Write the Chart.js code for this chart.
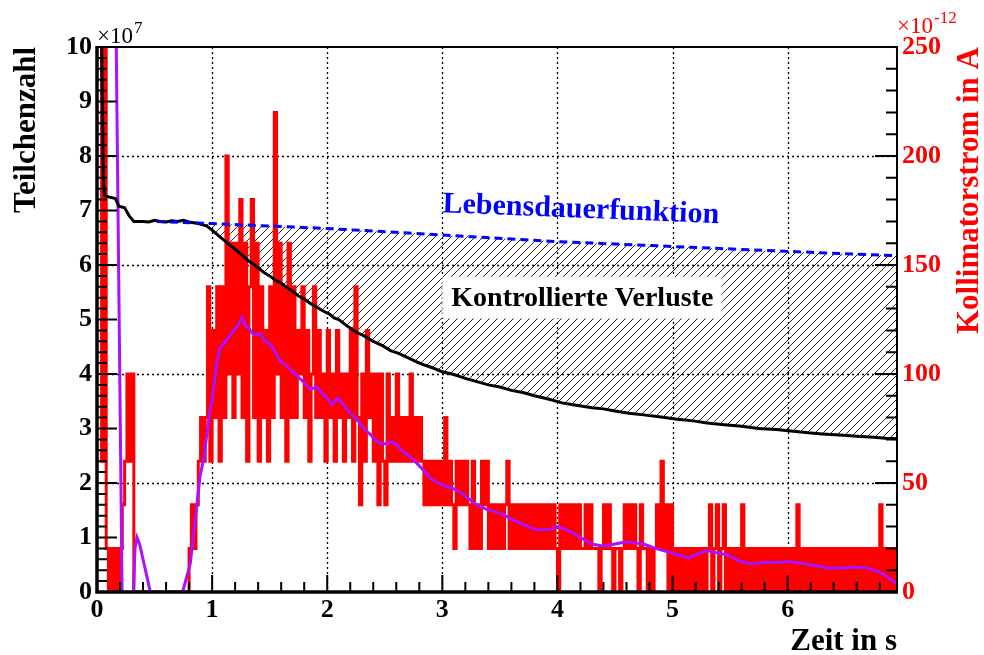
<!DOCTYPE html>
<html>
<head>
<meta charset="utf-8">
<title>Teilchenzahl und Kollimatorstrom</title>
<script src="https://cdn.jsdelivr.net/npm/chart.js@4.4.1/dist/chart.umd.min.js"></script>
<style>
  html, body { margin: 0; padding: 0; background: #fff; }
  #wrap { position: relative; width: 984px; height: 655px; }
</style>
</head>
<body>
<div id="wrap"><canvas id="chart"></canvas></div>
<script>
// Kollimatorstrom in 1e-12 A, one sample every 20 ms starting at t = 0
const stromStep = 0.02;
const stromWerte = [
  300,300,60,300,20,0,20,0,20,0,
  20,40,60,100,60,100,0,0,0,0,
  0,0,0,0,0,0,0,0,0,0,
  0,0,0,0,0,0,0,0,0,0,
  20,40,20,40,60,80,60,80,140,60,
  120,80,140,60,140,80,200,100,160,80,
  160,100,180,80,160,60,140,180,80,160,
  60,140,80,120,60,140,80,220,100,160,
  80,140,60,160,80,140,80,120,100,140,
  80,120,60,100,140,80,120,80,100,60,
  120,80,100,60,120,80,100,60,100,80,
  120,60,140,80,40,100,60,120,80,100,
  60,100,40,100,60,40,100,60,80,60,
  100,60,80,60,80,60,100,60,80,60,
  80,60,40,60,40,60,40,60,40,60,
  40,80,40,60,40,20,60,40,60,40,
  60,40,20,60,20,40,20,60,40,60,
  20,40,20,40,20,40,20,40,60,20,
  40,20,40,20,40,20,40,20,40,20,
  40,20,40,20,40,20,40,20,40,20,
  0,40,20,40,20,40,20,40,20,40,
  20,20,40,20,40,20,20,20,0,20,
  40,20,40,20,0,20,20,0,20,40,
  20,40,20,40,20,0,40,20,20,0,
  20,0,20,40,20,60,20,40,0,40,
  0,20,0,20,0,20,0,20,0,20,
  0,20,0,20,0,20,40,0,20,40,
  0,20,40,0,20,0,20,0,20,0,
  40,0,20,0,20,0,20,0,20,0,
  20,0,20,0,20,0,20,0,20,0,
  20,0,20,0,40,0,20,0,20,0,
  20,0,20,0,20,0,20,0,20,0,
  20,0,20,0,20,0,20,0,20,0,
  20,0,20,0,20,0,20,0,20,0,
  40,0,20,0,20,0,20,0
];

// geglaetteter Kollimatorstrom (1e-12 A), null = ausserhalb des Bereichs
const glattZeit = [0.165,0.218,0.26,0.317,0.33,0.347,0.37,0.40,0.43,0.463,0.60,0.744,
  0.81,0.84,0.895,0.93,0.98,1.0,1.04,1.07,1.12,1.16,1.22,1.26,1.29,1.32,1.36,1.42,1.46,
  1.5,1.55,1.59,1.64,1.68,1.74,1.8,1.85,1.91,1.96,2.0,2.04,2.09,2.14,2.2,2.26,2.32,2.38,
  2.43,2.47,2.52,2.56,2.61,2.67,2.72,2.78,2.85,2.9,2.96,3.03,3.09,3.15,3.2,3.25,3.3,3.38,
  3.45,3.53,3.62,3.7,3.76,3.83,3.9,3.95,4.0,4.06,4.12,4.2,4.3,4.4,4.5,4.6,4.68,4.75,4.85,
  4.95,5.05,5.14,5.22,5.3,5.38,5.48,5.59,5.68,5.8,5.91,6.0,6.08,6.2,6.34,6.45,6.58,6.69,
  6.78,6.84,6.9,6.94];
const glattWerte = [262,0,null,0,20,25,22,15,8,0,null,0,
  13,27,53,62,83,88,105,112,115,118,122,126,122,121,118,118.5,115,
  114,110,106,104,102,99,96,93,94,91,89,86,89,86,82,79,75,72,
  69,68,68,69,67,64,62,59,55,52,50,48.5,47.5,46,44,42,40,38,
  37,35.5,33,31,29.5,28.5,28.5,29,30,29,27.5,25,22,21,22,23,22.5,22,20,
  18.5,17,15.5,17.5,19,18,17,14,13,13.5,13.5,14,13.5,12.5,11,11,11.5,11,
  9.5,8,5.5,4];

// Teilchenzahl in 1e7
const teilchenZeit = [0,0.04,0.055,0.065,0.1,0.16,0.19,0.24,0.28,0.32,0.4,0.45,0.5,0.55,0.6,
  0.65,0.7,0.75,0.8,0.88,0.95,1.0,1.05,1.1,1.15,1.2,1.26,1.32,1.36,1.4,1.45,1.5,1.55,1.6,1.65,
  1.7,1.75,1.8,1.85,1.9,1.96,2.02,2.06,2.1,2.18,2.25,2.32,2.4,2.48,2.55,2.62,2.7,2.78,2.85,
  2.92,3.0,3.1,3.2,3.3,3.4,3.5,3.6,3.7,3.8,3.92,4.04,4.15,4.3,4.4,4.5,4.62,4.75,4.9,5.04,
  5.18,5.3,5.45,5.6,5.75,5.9,6.05,6.18,6.3,6.45,6.6,6.75,6.85,6.95];
const teilchenZahl = [10.6,10.1,7.6,7.28,7.25,7.22,7.08,7.05,6.9,6.8,6.8,6.79,6.82,6.8,6.79,
  6.81,6.8,6.82,6.79,6.76,6.72,6.64,6.55,6.46,6.37,6.29,6.18,6.07,6.02,5.95,5.86,5.8,5.72,5.67,5.58,
  5.52,5.43,5.38,5.3,5.24,5.16,5.1,5.03,5.0,4.87,4.77,4.7,4.6,4.52,4.43,4.38,4.3,4.22,4.16,
  4.11,4.04,3.99,3.92,3.86,3.8,3.76,3.7,3.66,3.6,3.54,3.47,3.43,3.38,3.36,3.32,3.28,3.25,3.21,3.17,
  3.14,3.1,3.07,3.04,3.0,2.98,2.95,2.92,2.9,2.88,2.86,2.84,2.82,2.81];

// Lebensdauerfunktion in 1e7
const lebensZeit = [0.52,1.0,2.0,3.0,4.0,5.0,6.0,6.95];
const lebensZahl = [6.80,6.76,6.67,6.55,6.43,6.34,6.25,6.17];

const xTicks = [0,1,2,3,4,5,6];
const yLinksTicks = [0,1,2,3,4,5,6,7,8,9,10];
const yRechtsTicks = [0,50,100,150,200,250];

const serif = "'Liberation Serif', 'Times New Roman', serif";
const canvas = document.getElementById('chart');

function schraffur() {
  const c = document.createElement('canvas');
  c.width = 8; c.height = 8;
  const g = c.getContext('2d');
  g.strokeStyle = '#111';
  g.lineWidth = 0.9;
  g.beginPath();
  g.moveTo(-1, 9); g.lineTo(9, -1);
  g.moveTo(-1, 1); g.lineTo(1, -1);
  g.moveTo(7, 9); g.lineTo(9, 7);
  g.stroke();
  return canvas.getContext('2d').createPattern(c, 'repeat');
}

const strom = stromWerte.map((v, i) => ({ x: +(i * stromStep).toFixed(2), y: v }));
const glatt = glattZeit.map((t, i) => ({ x: t, y: glattWerte[i] }));
const teilchen = teilchenZeit.map((t, i) => ({ x: t, y: teilchenZahl[i] }));
const lebens = lebensZeit.map((t, i) => ({ x: t, y: lebensZahl[i] }));

// dotted grid, inner tick marks, frame and all free text
const rahmen = {
  id: 'rahmen',
  beforeDatasetsDraw(chart) {
    const { ctx, chartArea: a, scales: { x, yR } } = chart;
    ctx.save();
    ctx.strokeStyle = '#000';
    ctx.lineWidth = 1.3;
    ctx.setLineDash([2, 3]);
    ctx.beginPath();
    xTicks.slice(1).forEach(v => {
      const px = Math.round(x.getPixelForValue(v)) + 0.5;
      ctx.moveTo(px, a.top); ctx.lineTo(px, a.bottom);
    });
    yRechtsTicks.slice(1, -1).forEach(v => {
      const py = Math.round(yR.getPixelForValue(v)) + 0.5;
      ctx.moveTo(a.left, py); ctx.lineTo(a.right, py);
    });
    ctx.stroke();
    ctx.restore();
  },
  afterDatasetsDraw(chart) {
    const { ctx, chartArea: a, scales: { x, y, yR } } = chart;
    ctx.save();

    // label box inside the hatched area
    ctx.font = 'bold 28px ' + serif;
    const txt = 'Kontrollierte Verluste';
    const bx = x.getPixelForValue(3.0), by = y.getPixelForValue(5.78);
    const bh = y.getPixelForValue(5.02) - by;
    const bw = ctx.measureText(txt).width + 18;
    ctx.fillStyle = '#fff';
    ctx.fillRect(bx, by, bw, bh);
    ctx.fillStyle = '#000';
    ctx.textBaseline = 'alphabetic';
    ctx.fillText(txt, bx + 9, by + 29);

    // Lebensdauerfunktion label, slightly tilted along the line
    ctx.save();
    ctx.translate(x.getPixelForValue(3.0), y.getPixelForValue(6.97));
    ctx.rotate(0.04);
    ctx.font = 'bold 30px ' + serif;
    ctx.fillStyle = '#0000ff';
    ctx.fillText('Lebensdauerfunktion', 0, 0);
    ctx.restore();

    // tick marks pointing into the plot
    ctx.strokeStyle = '#000';
    ctx.lineWidth = 2;
    ctx.beginPath();
    for (let v = 0; v <= 10.001; v += 0.2) {
      const major = Math.abs(v - Math.round(v)) < 1e-6;
      const py = y.getPixelForValue(v);
      ctx.moveTo(a.left, py); ctx.lineTo(a.left + (major ? 20 : 10), py);
    }
    for (let v = 0; v <= 6.95; v += 0.2) {
      const major = Math.abs(v - Math.round(v)) < 1e-6;
      const px = x.getPixelForValue(v);
      ctx.moveTo(px, a.bottom); ctx.lineTo(px, a.bottom - (major ? 17 : 10));
    }
    for (let v = 0; v <= 250; v += 10) {
      const major = v % 50 === 0;
      const py = yR.getPixelForValue(v);
      ctx.moveTo(a.right, py); ctx.lineTo(a.right - (major ? 22 : 11), py);
    }
    ctx.stroke();

    // frame, left and bottom axis drawn heavier
    ctx.lineWidth = 2;
    ctx.strokeRect(a.left, a.top, a.right - a.left, a.bottom - a.top);
    ctx.lineWidth = 3.5;
    ctx.beginPath();
    ctx.moveTo(a.left, a.top - 1); ctx.lineTo(a.left, a.bottom);
    ctx.lineTo(a.right + 1, a.bottom);
    ctx.stroke();
    ctx.restore();
  },
  afterDraw(chart) {
    const { ctx, chartArea: a } = chart;
    ctx.save();
    ctx.textBaseline = 'alphabetic';

    // axis titles
    ctx.fillStyle = '#000';
    ctx.font = 'bold 31px ' + serif;
    ctx.save();
    ctx.translate(35, a.top);
    ctx.rotate(-Math.PI / 2);
    ctx.textAlign = 'right';
    ctx.fillText('Teilchenzahl', 0, 0);
    ctx.restore();

    ctx.textAlign = 'right';
    ctx.fillText('Zeit in s', a.right, 650);

    ctx.fillStyle = '#ff0000';
    ctx.save();
    ctx.translate(978, a.top);
    ctx.rotate(-Math.PI / 2);
    ctx.textAlign = 'right';
    ctx.fillText('Kollimatorstrom in A', 0, 0);
    ctx.restore();

    // axis multipliers
    ctx.textAlign = 'left';
    ctx.fillStyle = '#000';
    ctx.font = '23px ' + serif;
    ctx.fillText('\u00d710', a.left, 43);
    let w = ctx.measureText('\u00d710').width;
    ctx.font = '17px ' + serif;
    ctx.fillText('7', a.left + w + 1, 33);

    ctx.fillStyle = '#ff0000';
    ctx.font = '23px ' + serif;
    ctx.fillText('\u00d710', a.right, 33);
    w = ctx.measureText('\u00d710').width;
    ctx.font = '17px ' + serif;
    ctx.fillText('-12', a.right + w + 1, 23);
    ctx.restore();
  }
};

const tickFont = { family: serif, size: 26, weight: 'bold' };

new Chart(canvas, {
  type: 'line',
  data: {
    datasets: [
      { label: 'Kollimatorstrom', data: strom, yAxisID: 'yR', borderColor: '#ff0000',
        borderWidth: 3, stepped: true, pointRadius: 0, order: 4,
        clip: { left: 0, top: 0, right: 0, bottom: -1 } },
      { label: 'Kollimatorstrom geglaettet', data: glatt, yAxisID: 'yR', borderColor: '#aa11ff',
        borderWidth: 3, pointRadius: 0, order: 3 },
      { label: 'Teilchenzahl', data: teilchen, yAxisID: 'y', borderColor: '#000000',
        borderWidth: 3, pointRadius: 0, order: 2 },
      { label: 'Lebensdauerfunktion', data: lebens, yAxisID: 'y', borderColor: '#0000ff',
        borderWidth: 3, borderDash: [8, 5], pointRadius: 0, order: 1,
        fill: { target: 2, above: schraffur(), below: 'rgba(0,0,0,0)' } }
    ]
  },
  options: {
    responsive: true,
    maintainAspectRatio: false,
    animation: false,
    layout: { padding: { top: 47, left: 0, right: 0, bottom: 0 } },
    plugins: {
      legend: { display: false },
      tooltip: { enabled: false },
      filler: { drawTime: 'beforeDatasetsDraw' }
    },
    scales: {
      x: {
        type: 'linear', min: 0, max: 6.95,
        afterBuildTicks: s => { s.ticks = xTicks.map(v => ({ value: v })); },
        afterFit: s => { s.height = 63; },
        ticks: { font: tickFont, color: '#000', padding: 3, maxRotation: 0, autoSkip: false },
        grid: { display: false, drawTicks: false },
        border: { display: false }
      },
      y: {
        position: 'left', min: 0, max: 10,
        afterBuildTicks: s => { s.ticks = yLinksTicks.map(v => ({ value: v })); },
        afterFit: s => { s.width = 97; },
        ticks: { font: tickFont, color: '#000', padding: 5, autoSkip: false },
        grid: { display: false, drawTicks: false },
        border: { display: false }
      },
      yR: {
        position: 'right', min: 0, max: 250,
        afterBuildTicks: s => { s.ticks = yRechtsTicks.map(v => ({ value: v })); },
        afterFit: s => { s.width = 87; },
        ticks: { font: tickFont, color: '#ff0000', padding: 5, autoSkip: false },
        grid: { display: false, drawTicks: false },
        border: { display: false }
      }
    }
  },
  plugins: [rahmen]
});
</script>
</body>
</html>
